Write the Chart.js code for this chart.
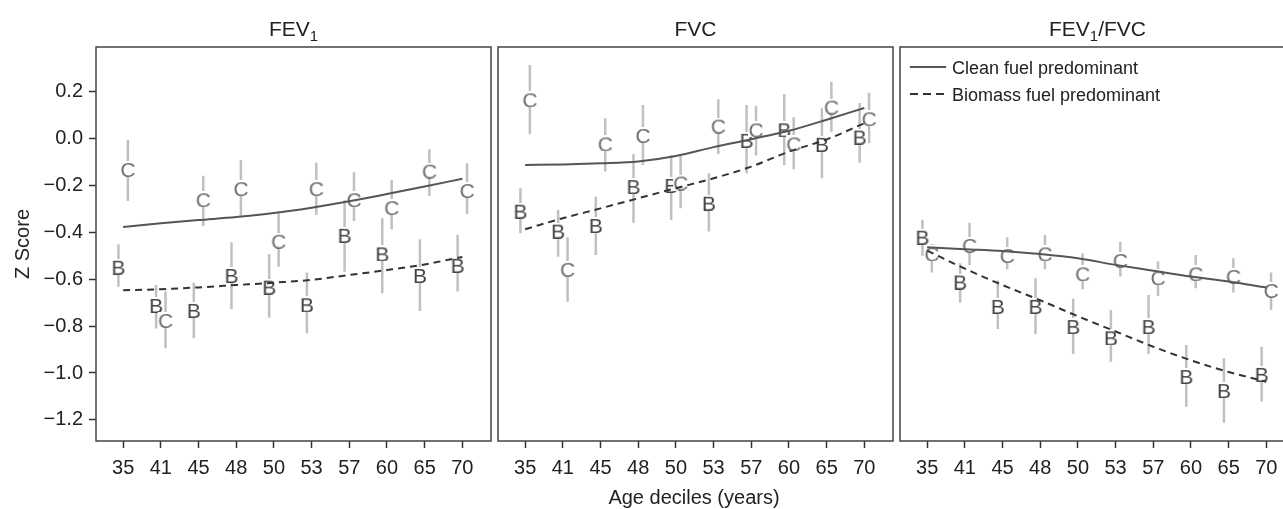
<!DOCTYPE html>
<html>
<head>
<meta charset="utf-8">
<title>Z scores by age decile and fuel type</title>
<script src="https://cdn.jsdelivr.net/npm/chart.js@4.4.1/dist/chart.umd.min.js"></script>
<style>
  html, body { margin: 0; padding: 0; background: #fff; overflow: hidden; }
  #page { position: relative; width: 1283px; height: 509px; overflow: hidden;
          font-family: "Liberation Sans", Arial, sans-serif; color: #222; }
  canvas { position: absolute; top: 0; }
  .title { position: absolute; top: 17px; width: 395px; text-align: center;
           font-size: 21px; line-height: 24px; white-space: nowrap; }
  .title .sub { font-size: 15px; position: relative; top: 5px; }
  #xlabel { position: absolute; left: 494px; top: 485px; width: 400px; text-align: center;
            font-size: 20px; line-height: 24px; }
  #ylabel { position: absolute; left: 22px; top: 244px; font-size: 20px; line-height: 24px;
            transform: translate(-50%, -50%) rotate(-90deg); white-space: nowrap; }
  .legend { position: absolute; left: 910px; font-size: 18px; line-height: 22px; white-space: nowrap; }
  .legend svg { vertical-align: middle; margin-right: 6px; position: relative; top: -2px; }
</style>
</head>
<body>
<div id="page">
  <canvas id="fev1" width="497" height="509" style="left:0px"></canvas>
  <canvas id="fvc" width="497" height="509" style="left:402px"></canvas>
  <canvas id="ratio" width="497" height="509" style="left:804px"></canvas>

  <div class="title" style="left:96px">FEV<span class="sub">1</span></div>
  <div class="title" style="left:498px">FVC</div>
  <div class="title" style="left:900px">FEV<span class="sub">1</span>/FVC</div>

  <div class="legend" style="top:57px"><svg width="36" height="4"><line x1="0" y1="2" x2="36" y2="2" stroke="#555" stroke-width="2"/></svg>Clean fuel predominant</div>
  <div class="legend" style="top:84px"><svg width="36" height="4"><line x1="0" y1="2" x2="36" y2="2" stroke="#333" stroke-width="2" stroke-dasharray="8,5"/></svg>Biomass fuel predominant</div>

  <div id="xlabel">Age deciles (years)</div>
  <div id="ylabel">Z Score</div>
</div>

<script>
// age deciles and y ticks
const ages = ['35', '41', '45', '48', '50', '53', '57', '60', '65', '70'];
const zTicks = [0.2, 0.0, -0.2, -0.4, -0.6, -0.8, -1.0, -1.2];

// FEV1 panel
const fev1CleanMean = [-0.13, -0.774, -0.259, -0.212, -0.436, -0.212, -0.259, -0.293, -0.137, -0.22];
const fev1CleanLow = [-0.267, -0.895, -0.373, -0.33, -0.547, -0.326, -0.352, -0.387, -0.245, -0.322];
const fev1CleanHigh = [-0.005, -0.653, -0.159, -0.092, -0.319, -0.103, -0.144, -0.177, -0.046, -0.106];
const fev1BioMean = [-0.547, -0.71, -0.731, -0.582, -0.632, -0.707, -0.411, -0.49, -0.582, -0.539];
const fev1BioLow = [-0.632, -0.81, -0.852, -0.728, -0.764, -0.831, -0.568, -0.66, -0.736, -0.653];
const fev1BioHigh = [-0.451, -0.625, -0.615, -0.443, -0.493, -0.571, -0.262, -0.34, -0.43, -0.411];
const fev1CleanFit = [-0.377, -0.362, -0.348, -0.335, -0.318, -0.295, -0.268, -0.237, -0.205, -0.172];
const fev1BioFit = [-0.647, -0.643, -0.635, -0.625, -0.615, -0.603, -0.582, -0.561, -0.537, -0.505];

// FVC panel
const fvcCleanMean = [0.167, -0.556, -0.021, 0.015, -0.188, 0.055, 0.039, -0.021, 0.136, 0.086];
const fvcCleanLow = [0.018, -0.696, -0.141, -0.113, -0.298, -0.066, -0.073, -0.131, 0.029, -0.02];
const fvcCleanHigh = [0.313, -0.421, 0.086, 0.143, -0.075, 0.167, 0.139, 0.09, 0.242, 0.195];
const fvcBioMean = [-0.308, -0.393, -0.369, -0.203, -0.198, -0.274, -0.006, 0.039, -0.023, 0.008];
const fvcBioLow = [-0.404, -0.504, -0.497, -0.359, -0.348, -0.397, -0.148, -0.113, -0.17, -0.104];
const fvcBioHigh = [-0.212, -0.305, -0.248, -0.066, -0.07, -0.148, 0.143, 0.19, 0.129, 0.151];
const fvcCleanFit = [-0.113, -0.111, -0.106, -0.098, -0.075, -0.037, -0.003, 0.033, 0.08, 0.13];
const fvcBioFit = [-0.387, -0.34, -0.298, -0.255, -0.212, -0.17, -0.12, -0.056, -0.004, 0.065];

// FEV1/FVC panel
const ratioCleanMean = [-0.49, -0.454, -0.497, -0.49, -0.575, -0.518, -0.592, -0.575, -0.586, -0.646];
const ratioCleanLow = [-0.572, -0.54, -0.558, -0.558, -0.643, -0.589, -0.672, -0.639, -0.657, -0.731];
const ratioCleanHigh = [-0.45, -0.359, -0.421, -0.412, -0.49, -0.44, -0.525, -0.497, -0.511, -0.572];
const ratioBioMean = [-0.419, -0.61, -0.714, -0.714, -0.8, -0.848, -0.8, -1.013, -1.073, -1.004];
const ratioBioLow = [-0.5, -0.7, -0.812, -0.834, -0.919, -0.952, -0.919, -1.144, -1.212, -1.122];
const ratioBioHigh = [-0.347, -0.532, -0.606, -0.596, -0.682, -0.731, -0.667, -0.881, -0.937, -0.888];
const ratioCleanFit = [-0.464, -0.472, -0.48, -0.493, -0.511, -0.539, -0.564, -0.589, -0.61, -0.635];
const ratioBioFit = [-0.478, -0.555, -0.625, -0.69, -0.758, -0.823, -0.888, -0.946, -0.996, -1.037];

const FONT = '"Liberation Sans", Arial, sans-serif';
Chart.defaults.font.family = FONT;

// letter marker with a white knock-out behind it
function letterImage(ch, color) {
  const c = document.createElement('canvas');
  c.width = 16; c.height = 16;
  const g = c.getContext('2d');
  g.fillStyle = '#fff';
  g.fillRect(0, 0, 16, 16);
  g.font = '21px ' + FONT;
  g.fillStyle = color;
  g.textAlign = 'center';
  g.textBaseline = 'alphabetic';
  g.fillText(ch, 8, 15.5);
  return c;
}
const imgC = letterImage('C', '#707070');
const imgB = letterImage('B', '#444');

function barData(low, high, off) {
  const d = [];
  low.forEach((lo, i) => {
    d.push({ x: i + off, y: lo }, { x: i + off, y: high[i] }, { x: i + off, y: null });
  });
  return d;
}
const pts = (vals, off) => vals.map((y, i) => ({ x: i + off, y: y }));

const frame = {
  id: 'frame',
  afterDraw(chart) {
    const a = chart.chartArea, ctx = chart.ctx;
    ctx.save();
    ctx.strokeStyle = '#444';
    ctx.lineWidth = 1.5;
    ctx.strokeRect(a.left, a.top, a.right - a.left, a.bottom - a.top);
    ctx.restore();
  }
};

function makeChart(id, s, showY) {
  const errStyle = { type: 'line', showLine: true, spanGaps: false, pointRadius: 0,
                     borderColor: '#c0c0c0', borderWidth: 2.5, order: 2 };
  new Chart(document.getElementById(id), {
    type: 'scatter',
    data: {
      datasets: [
        Object.assign({ data: barData(s.cLow, s.cHigh, 0.125) }, errStyle),
        Object.assign({ data: barData(s.bLow, s.bHigh, -0.125) }, errStyle),
        { data: pts(s.cMean, 0.125), pointStyle: imgC, pointRadius: 5, order: 1 },
        { data: pts(s.bMean, -0.125), pointStyle: imgB, pointRadius: 5, order: 1 },
        { type: 'line', data: pts(s.cFit, 0), showLine: true, pointRadius: 0, borderColor: '#555',
          borderWidth: 2, cubicInterpolationMode: 'monotone', order: 0 },
        { type: 'line', data: pts(s.bFit, 0), showLine: true, pointRadius: 0, borderColor: '#333',
          borderWidth: 2, borderDash: [7, 5], cubicInterpolationMode: 'monotone', order: 0 }
      ]
    },
    options: {
      responsive: false,
      animation: false,
      devicePixelRatio: 1,
      events: [],
      layout: { padding: { top: 47, right: 3, bottom: 0, left: 0 } },
      plugins: { legend: { display: false }, tooltip: { enabled: false } },
      scales: {
        x: {
          type: 'linear', min: -0.72, max: 9.76,
          afterBuildTicks: sc => { sc.ticks = ages.map((a, i) => ({ value: i })); },
          afterFit: sc => { sc.height = 68; },
          border: { display: false },
          grid: { drawOnChartArea: false, drawTicks: true, tickLength: 7, tickColor: '#333', tickWidth: 1.5 },
          ticks: { callback: v => ages[v], autoSkip: false, maxRotation: 0, padding: 8,
                   color: '#222', font: { size: 20 } }
        },
        y: {
          min: -1.29, max: 0.39,
          afterBuildTicks: sc => { sc.ticks = zTicks.map(v => ({ value: v })); },
          afterFit: sc => { sc.width = 96; },
          border: { display: false },
          grid: { drawOnChartArea: false, drawTicks: showY, tickLength: 7, tickColor: '#333', tickWidth: 1.5 },
          ticks: { display: showY, padding: 6, color: '#222', font: { size: 20 },
                   callback: v => v.toFixed(1).replace('-', '\u2212') }
        }
      }
    },
    plugins: [frame]
  });
}

makeChart('fev1', { cMean: fev1CleanMean, cLow: fev1CleanLow, cHigh: fev1CleanHigh,
                    bMean: fev1BioMean, bLow: fev1BioLow, bHigh: fev1BioHigh,
                    cFit: fev1CleanFit, bFit: fev1BioFit }, true);
makeChart('fvc', { cMean: fvcCleanMean, cLow: fvcCleanLow, cHigh: fvcCleanHigh,
                   bMean: fvcBioMean, bLow: fvcBioLow, bHigh: fvcBioHigh,
                   cFit: fvcCleanFit, bFit: fvcBioFit }, false);
makeChart('ratio', { cMean: ratioCleanMean, cLow: ratioCleanLow, cHigh: ratioCleanHigh,
                     bMean: ratioBioMean, bLow: ratioBioLow, bHigh: ratioBioHigh,
                     cFit: ratioCleanFit, bFit: ratioBioFit }, false);
</script>
</body>
</html>
